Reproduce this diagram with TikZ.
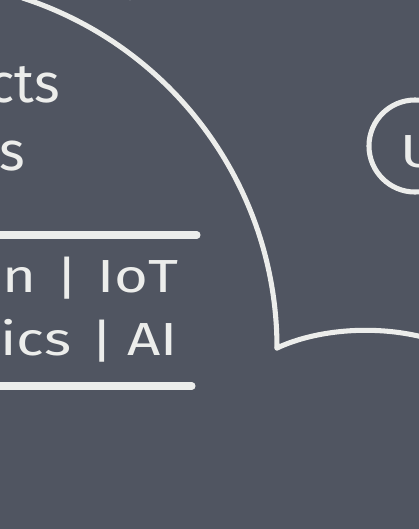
\documentclass[tikz,border=0pt]{standalone}
\usepackage{fontspec}
\setmainfont{Fira Sans}
\newfontfamily\chalkwide{Fira Sans}[FakeStretch=1.25]
\usetikzlibrary{positioning}
\definecolor{board}{RGB}{80,85,97}
\definecolor{chalk}{RGB}{236,237,235}

\begin{document}
\begin{tikzpicture}[x=0.025cm, y=-0.025cm,
    every node/.style={text=chalk, inner sep=0pt},
    chalkline/.style={draw=chalk, line width=3.6pt, line cap=round},
    rule/.style={draw=chalk, line width=5pt, line cap=round},
    bigtext/.style={font=\fontsize{39}{39}\selectfont},
    rowtext/.style={font=\chalkwide\fontsize{33}{33}\selectfont}]
    \fill[board] (0,0) rectangle (419,529);
    \useasboundingbox (0,0) rectangle (419,529);
    \clip (0,0) rectangle (419,529);

    % offer list
    \node[bigtext, anchor=base east] (products) at (60,102) {Products};
    \node[bigtext, anchor=base east] (services) at (25,170) {Services};
    \draw[rule] (-5,235) -- (197,235);
    \node[rowtext, anchor=base east] (chain) at (37,292) {Blockchain};
    \node[rowtext] (bar1) at (67,278) {|};
    \node[rowtext, anchor=base west] (iot) at (97,292) {IoT};
    \node[rowtext, anchor=base east] (analytics) at (72,355) {Analytics};
    \node[rowtext] (bar2) at (102,341) {|};
    \node[rowtext, anchor=base west] (ai) at (127,355) {AI};
    \draw[rule] (-5,386) -- (192,386);

    % big bubble and the next one
    \coordinate (cusp) at (277,348);
    \draw[chalkline] (cusp) arc (0:-72:368);
    \draw[chalkline] (cusp) .. controls (315,330) and (380,322) .. (440,342);

    % small circle on the right
    \node[draw=chalk, circle, line width=3.6pt, minimum size=2.3cm] (ucircle) at (415,146) {};
    \node[rowtext, anchor=base west] (uletter) at (400,167) {U};

    % bits at the top edge
    \draw[chalkline, line width=2.5pt] (108,-4) .. controls (122,-1) and (138,-1) .. (152,-4);
    \draw[chalkline, line width=2.5pt] (274,-4) .. controls (282,-1.5) and (294,-1.5) .. (304,-4);
\end{tikzpicture}
\end{document}
